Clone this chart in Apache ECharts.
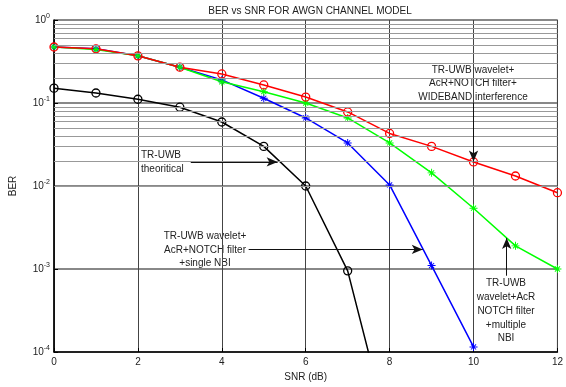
<!DOCTYPE html>
<html>
<head>
<meta charset="utf-8">
<script src="https://cdn.jsdelivr.net/npm/echarts@6/dist/echarts.min.js"></script>
<style>
  html, body { margin: 0; padding: 0; background: #fff; }
  #main { width: 566px; height: 387px; }
</style>
</head>
<body>
<div id="main"></div>
<script>
// SNR (dB) values on the x axis
var snr = [0, 1, 2, 3, 4, 5, 6, 7, 8, 9, 10, 11, 12];

// BER curves
var berTheory = [0.151, 0.132, 0.111, 0.089, 0.059, 0.030, 0.0100, 0.00095, 0.00001];
var berSingle = [0.473, 0.45, 0.37, 0.27, 0.19, 0.114, 0.066, 0.033, 0.0103, 0.0011, 0.000115];
var berMultiple = [0.473, 0.44, 0.37, 0.27, 0.18, 0.137, 0.100, 0.066, 0.033, 0.0144, 0.0054, 0.0019, 0.00100];
var berWideband = [0.473, 0.45, 0.37, 0.27, 0.224, 0.165, 0.118, 0.078, 0.043, 0.030, 0.0195, 0.0132, 0.0083];

var FONT = 'Liberation Sans, Arial, sans-serif';

function pairs(ys) {
  var out = [];
  for (var i = 0; i < ys.length; i++) out.push([snr[i], ys[i]]);
  return out;
}

// minor grid lines 2..9 x 10^d
var minorLines = [];
for (var d = -4; d < 0; d++) {
  for (var k = 2; k <= 9; k++) {
    minorLines.push({ yAxis: k * Math.pow(10, d) });
  }
}

// asterisk marker like matlab '*'
var star = 'path://M-5,-0.6L5,-0.6L5,0.6L-5,0.6Z' +
  'M-0.6,-5L0.6,-5L0.6,5L-0.6,5Z' +
  'M-2.76,-3.6L3.6,2.76L2.76,3.6L-3.6,-2.76Z' +
  'M3.6,-2.76L-2.76,3.6L-3.6,2.76L2.76,-3.6Z';

var chart = echarts.init(document.getElementById('main'), null, { renderer: 'canvas' });

function arrow(x1, y1, x2, y2) {
  return [{ coord: [x1, y1] }, { coord: [x2, y2] }];
}

var option = {
  backgroundColor: '#fff',
  animation: false,
  title: {
    text: 'BER vs SNR FOR AWGN CHANNEL MODEL',
    left: 305,
    textAlign: 'center',
    top: 1,
    textStyle: { fontSize: 10, fontWeight: 'normal', color: '#222', fontFamily: FONT }
  },
  grid: {
    left: 53, right: 8.5, top: 20, bottom: 35,
    show: true, borderColor: '#000', borderWidth: 1
  },
  xAxis: {
    type: 'value',
    min: 0, max: 12, interval: 2,
    name: 'SNR (dB)',
    nameLocation: 'middle',
    nameGap: 20,
    nameTextStyle: { fontSize: 10, color: '#222', fontFamily: FONT },
    axisLine: { lineStyle: { color: '#000', width: 1.5 } },
    axisTick: { inside: true, length: 4, lineStyle: { color: '#000' } },
    axisLabel: { fontSize: 10, color: '#222', margin: 5, fontFamily: FONT },
    splitLine: { show: true, lineStyle: { color: '#444', width: 1 } }
  },
  yAxis: {
    type: 'log',
    logBase: 10,
    min: 1e-4, max: 1,
    name: 'BER',
    nameLocation: 'middle',
    nameGap: 36,
    nameTextStyle: { fontSize: 10, color: '#222', fontFamily: FONT },
    axisLine: { lineStyle: { color: '#000', width: 1.5 } },
    axisTick: { inside: true, length: 4, lineStyle: { color: '#000' } },
    axisLabel: {
      margin: 4,
      color: '#222',
      fontFamily: FONT,
      formatter: function (v) {
        return '{b|10}{s|' + Math.round(Math.log10(v)) + '}';
      },
      rich: {
        b: { fontSize: 10, fontFamily: FONT, color: '#222' },
        s: { fontSize: 7, fontFamily: FONT, color: '#222', verticalAlign: 'bottom', padding: [0, 0, 7, 0] }
      }
    },
    splitLine: { show: true, lineStyle: { color: '#888', width: 2 } }
  },
  series: [
    {
      type: 'line',
      data: [],
      silent: true,
      markLine: {
        silent: true,
        symbol: ['none', 'none'],
        label: { show: false },
        lineStyle: { color: '#999', width: 1, type: 'solid' },
        data: minorLines
      }
    },
    {
      name: 'theory',
      type: 'line',
      data: pairs(berTheory),
      symbol: 'circle',
      symbolSize: 8,
      lineStyle: { width: 1.5, color: '#000' },
      itemStyle: { color: 'rgba(0,0,0,0)', borderColor: '#000', borderWidth: 1.3 }
    },
    {
      name: 'single',
      type: 'line',
      data: pairs(berSingle),
      symbol: star,
      symbolSize: 8,
      lineStyle: { width: 1.5, color: '#0000ff' },
      itemStyle: { color: '#0000ff' }
    },
    {
      name: 'multiple',
      type: 'line',
      data: pairs(berMultiple),
      symbol: star,
      symbolSize: 8,
      lineStyle: { width: 1.5, color: '#00ff00' },
      itemStyle: { color: '#00ff00' }
    },
    {
      name: 'wideband',
      type: 'line',
      data: pairs(berWideband),
      symbol: 'circle',
      symbolSize: 8,
      lineStyle: { width: 1.5, color: '#ff0000' },
      itemStyle: { color: 'rgba(0,0,0,0)', borderColor: '#ff0000', borderWidth: 1.3 }
    },
    {
      type: 'line',
      data: [],
      silent: true,
      markLine: {
        silent: true,
        symbol: ['none', 'arrow'],
        symbolSize: [7, 11],
        label: { show: false },
        lineStyle: { color: '#111', width: 1, type: 'solid' },
        data: [
          arrow(3.26, 0.0195, 5.33, 0.0195),
          arrow(4.64, 0.00172, 8.79, 0.00172),
          arrow(10.0, 0.1, 10.0, 0.0197),
          arrow(10.79, 0.00083, 10.79, 0.00236)
        ]
      }
    }
  ],
  graphic: [
    {
      type: 'text', left: 141, top: 148,
      style: { text: 'TR-UWB\ntheoritical', font: '10px ' + FONT, fill: '#222', lineHeight: 14 }
    },
    {
      type: 'text', x: 205, y: 250,
      style: {
        text: 'TR-UWB wavelet+\nAcR+NOTCH filter\n+single NBI',
        font: '10px ' + FONT, fill: '#222', lineHeight: 13.5,
        align: 'center', verticalAlign: 'middle'
      }
    },
    {
      type: 'text', x: 473, y: 83.5,
      style: {
        text: 'TR-UWB wavelet+\nAcR+NOTCH filter+\nWIDEBAND interference',
        font: '10px ' + FONT, fill: '#222', lineHeight: 13.5,
        align: 'center', verticalAlign: 'middle'
      }
    },
    {
      type: 'text', x: 506, y: 311,
      style: {
        text: 'TR-UWB\nwavelet+AcR\nNOTCH filter\n+multiple\nNBI',
        font: '10px ' + FONT, fill: '#222', lineHeight: 13.8,
        align: 'center', verticalAlign: 'middle'
      }
    }
  ]
};

chart.setOption(option);
</script>
</body>
</html>
